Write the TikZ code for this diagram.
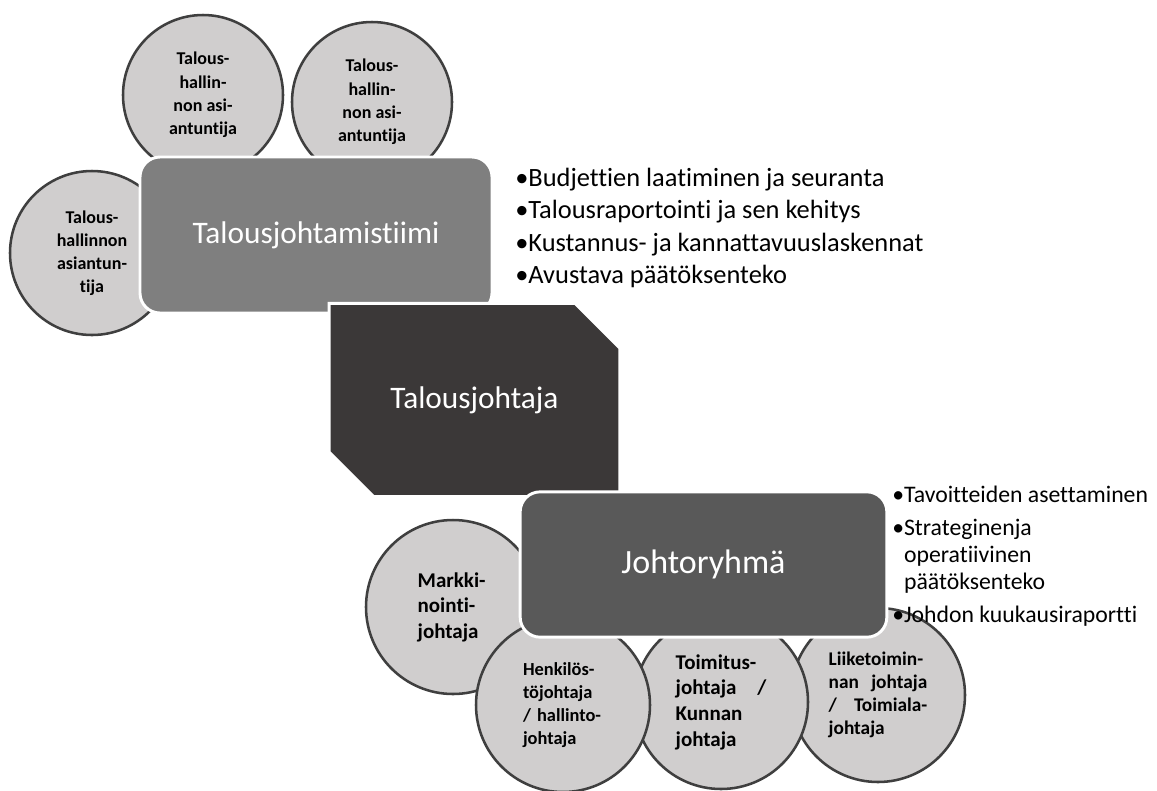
\documentclass[tikz,border=0pt]{standalone}
\usepackage{fontspec}
\setmainfont{Carlito}[Ligatures=NoCommon]
\usepackage{xcolor}
\usepackage{tikz}
\usetikzlibrary{shapes.misc}

\definecolor{ympfill}{HTML}{D0CECE}
\definecolor{ympline}{HTML}{3F3F3F}
\definecolor{tiimigray}{HTML}{7F7F7F}
\definecolor{johtajagray}{HTML}{3B3838}
\definecolor{ryhmagray}{HTML}{595959}

\begin{document}
\begin{tikzpicture}[x=0.75pt, y=-0.75pt,
    ympyra/.style={circle, draw=ympline, line width=1.9pt, fill=ympfill,
        inner sep=0pt, minimum size=#1, font=\bfseries},
    laatikko/.style={draw=white, line width=2.2pt, text=white,
        font=\fontsize{23.5}{28}\selectfont}]
    \useasboundingbox (0,0) rectangle (1157,790);

    % Ylempi ryhmä: asiantuntijat
    \node[ympyra=120pt, align=center, font=\bfseries\fontsize{13.5}{17.5}\selectfont]
        (asi1) at (203,95) {Talous-\\hallin-\\non asi-\\antuntija};
    \node[ympyra=120pt, align=center, font=\bfseries\fontsize{13.5}{17.5}\selectfont]
        (asi2) at (372,102) {Talous-\\hallin-\\non asi-\\antuntija};
    \node[ympyra=123pt, align=center, font=\bfseries\fontsize{13.5}{17.2}\selectfont]
        (asi3) at (92,253) {Talous-\\hallinnon\\asiantun-\\tija};
    \node[laatikko, fill=tiimigray, rounded corners=15pt,
        minimum width=264pt, minimum height=117pt] (tiimi) at (316,235) {Talousjohtamistiimi};

    % Talousjohtaja
    \node[laatikko, fill=johtajagray, chamfered rectangle,
        chamfered rectangle corners={north east, south west},
        chamfered rectangle xsep=20pt, chamfered rectangle ysep=20pt,
        minimum width=218pt, minimum height=145pt] (johtaja) at (474.5,400) {Talousjohtaja};

    % Alempi ryhmä: johtoryhmän jäsenet
    \node[ympyra=130.5pt, text width=53pt, align=left,
        font=\bfseries\fontsize{15.75}{19.2}\selectfont]
        (markki) at (453,607) {Markki-\\nointi-\\johtaja};
    \node[ympyra=130.5pt, text width=74pt, align=left,
        font=\bfseries\fontsize{14.5}{17.2}\selectfont]
        (liike) at (878,695) {Liiketoimin-\\nan\hfill johtaja\\/\hfill Toimiala-\\johtaja};
    \node[ympyra=130.5pt, text width=68pt, align=left,
        font=\bfseries\fontsize{15.75}{19.2}\selectfont]
        (toimitus) at (721,702) {Toimitus-\\johtaja\hfill/\\Kunnan\\johtaja};
    \node[ympyra=130.5pt, text width=60pt, align=left,
        font=\bfseries\fontsize{13.8}{17.2}\selectfont]
        (henkilo) at (563,705) {Henkilös-\\töjohtaja\\/ hallinto-\\johtaja};
    \node[laatikko, fill=ryhmagray, rounded corners=15pt,
        minimum width=275pt, minimum height=109pt,
        font=\fontsize{25.5}{30}\selectfont] (ryhma) at (703.5,564.5) {Johtoryhmä};

    % Tehtävät
    \node[anchor=west, align=left, inner sep=0pt, font=\fontsize{19.8}{24.4}\selectfont]
        (tehtavat) at (515,228) {•Budjettien laatiminen ja seuranta\\
        •Talousraportointi ja sen kehitys\\
        •Kustannus- ja kannattavuuslaskennat\\
        •Avustava päätöksenteko};
    \node[anchor=west, align=left, inner sep=0pt, font=\fontsize{17.8}{20.5}\selectfont]
        (ryhmatehtavat) at (892,556) {•Tavoitteiden asettaminen\\[4pt]
        •Strateginenja\\
        \hphantom{•}operatiivinen\\
        \hphantom{•}päätöksenteko\\[4pt]
        •Johdon kuukausiraportti};
\end{tikzpicture}
\end{document}
